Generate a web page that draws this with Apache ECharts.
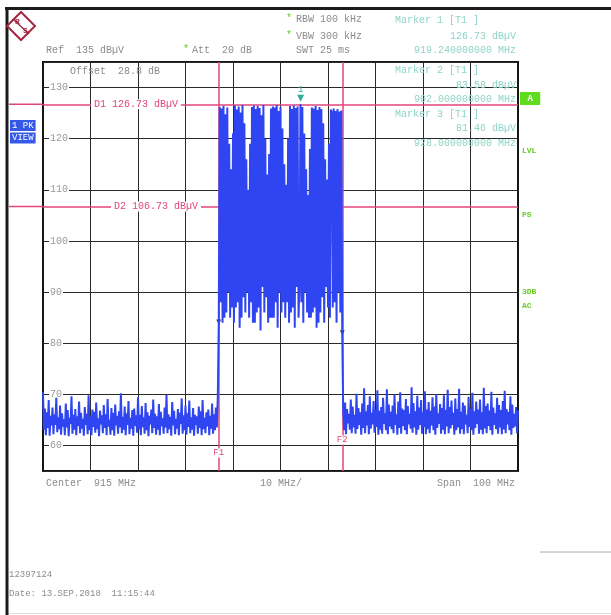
<!DOCTYPE html>
<html>
<head>
<meta charset="utf-8">
<script src="https://cdn.jsdelivr.net/npm/echarts@6/dist/echarts.min.js"></script>
<style>
html, body { margin: 0; padding: 0; background: #fff; }
#chart { width: 611px; height: 615px; }
</style>
</head>
<body>
<div id="chart"></div>
<script>
// sweep grid of the analyzer: 501 points, 865 .. 965 MHz
const sweepStart = 865;
const sweepStep = 0.2;

// trace, dBuV, left noise floor (865.0 .. 901.8 MHz)
const noiseLeft = [
  70.4, 63.1, 67.2, 62.0, 66.5, 63.4, 68.9, 61.9, 65.8, 63.9,
  67.4, 62.2, 66.1, 64.0, 69.3, 62.6, 65.5, 63.2, 67.8, 62.1,
  66.3, 63.7, 65.1, 62.0, 68.2, 63.5, 66.9, 61.8, 65.4, 64.2,
  69.6, 62.3, 66.0, 63.1, 67.1, 62.0, 65.7, 63.8, 68.6, 62.4,
  66.4, 63.3, 65.2, 61.9, 67.5, 64.0, 66.2, 62.2, 69.8, 63.0,
  65.6, 62.0, 67.0, 63.6, 66.6, 62.5, 68.4, 63.2, 65.3, 61.8,
  66.8, 64.1, 65.9, 62.4, 67.9, 63.4, 66.1, 62.0, 69.1, 63.7,
  65.0, 62.1, 67.3, 63.0, 66.4, 61.9, 68.0, 63.9, 65.8, 62.3,
  66.7, 63.5, 70.2, 62.4, 65.6, 63.1, 67.6, 62.0, 66.3, 64.0,
  68.7, 62.2, 65.4, 63.3, 66.9, 61.9, 67.2, 63.8, 65.9, 62.5,
  69.4, 63.2, 66.0, 62.0, 67.7, 63.6, 65.5, 62.3, 68.3, 63.0,
  66.5, 61.8, 65.8, 64.1, 67.0, 62.4, 69.0, 63.4, 66.2, 62.1,
  65.7, 63.1, 68.1, 62.0, 66.6, 63.8, 65.3, 62.3, 67.4, 63.5,
  69.9, 62.4, 66.1, 63.2, 65.6, 61.9, 68.5, 63.9, 66.8, 62.2,
  65.2, 63.3, 67.1, 62.0, 66.4, 64.2, 69.2, 62.3, 65.9, 63.0,
  67.8, 62.1, 66.3, 63.6, 68.8, 62.4, 65.5, 63.1, 67.3, 61.9,
  66.0, 64.0, 65.7, 62.3, 67.6, 63.4, 66.7, 62.0, 68.9, 63.2,
  65.4, 62.4, 66.5, 63.7, 67.0, 62.0, 65.8, 63.3, 68.2, 62.3,
  66.1, 63.0, 67.4, 63.5, 69.5
];

// burst between F1 and F2 (902.0 .. 928.0 MHz)
const burst = [
  83.58, 126.2, 88, 125.9, 84, 126.4, 85, 124.8, 86, 126.1,
  90, 119, 85, 114, 87, 121, 84, 126.5, 87, 125.7,
  88, 126.3, 83, 125.1, 85, 126.6, 89, 123, 86, 116,
  90, 110, 85, 119, 88, 126.2, 84, 126.5, 84, 125.8,
  86, 126.4, 87, 126.0, 82.5, 124.6, 91, 126.6, 86, 120,
  89, 113, 84, 117, 85, 125.9, 85, 126.3, 85, 126.1,
  88, 126.6, 83, 125.4, 90, 126.2, 86, 122, 88, 115,
  85, 111, 88, 120, 84, 126.4, 86, 125.8, 87, 126.5,
  83, 126.0, 91, 126.3, 85, 92, 126.73, 88, 126.2, 84,
  121, 90, 114, 86, 109, 85, 118, 85, 126.1, 86,
  125.9, 87, 126.4, 83, 125.6, 84, 126.2, 86, 125.8, 89,
  123, 84, 116, 91, 112, 87, 119, 85, 125.7, 125.2,
  87, 125.9, 88, 125.4, 84, 125.8, 90, 125.3, 86, 125.5,
  81.46
];

// right noise floor (928.2 .. 965.0 MHz)
const noiseRight = [
  66.9, 63.0, 68.4, 62.2, 67.1, 64.3, 66.2, 63.1, 69.0, 62.4,
  67.6, 63.5, 66.0, 62.3, 70.1, 63.2, 67.3, 64.0, 66.5, 62.1,
  68.2, 63.4, 71.2, 62.4, 66.7, 63.9, 67.9, 62.2, 69.6, 63.3,
  66.4, 64.1, 68.7, 62.5, 67.0, 63.6, 70.8, 62.1, 66.8, 63.1,
  67.5, 62.3, 69.3, 64.2, 66.3, 63.0, 71.0, 62.2, 68.0, 63.7,
  66.6, 63.2, 67.8, 62.4, 69.9, 64.0, 66.1, 62.1, 68.6, 63.4,
  70.4, 62.3, 67.2, 63.8, 66.9, 63.0, 69.1, 62.2, 67.7, 64.1,
  66.2, 63.3, 71.4, 62.5, 68.3, 63.5, 66.7, 62.1, 69.7, 63.1,
  67.4, 64.0, 68.9, 62.3, 66.5, 63.6, 70.6, 62.2, 67.0, 63.2,
  68.5, 62.4, 66.8, 63.9, 69.4, 63.0, 67.6, 62.1, 70.0, 63.4,
  66.3, 64.2, 68.1, 62.3, 67.3, 63.1, 69.8, 62.2, 66.9, 63.7,
  70.9, 62.4, 67.5, 63.3, 68.8, 64.0, 66.4, 62.1, 69.2, 63.0,
  67.1, 63.5, 71.1, 62.3, 66.6, 63.2, 68.4, 62.2, 67.8, 64.1,
  66.0, 62.4, 69.5, 63.6, 67.2, 63.0, 70.3, 62.1, 66.7, 63.4,
  68.6, 64.2, 67.0, 62.3, 69.0, 63.1, 66.5, 62.2, 71.3, 63.3,
  67.7, 62.4, 68.2, 63.8, 66.8, 63.0, 70.5, 62.1, 67.4, 64.0,
  66.3, 63.2, 69.3, 62.3, 67.9, 63.5, 66.9, 62.2, 68.7, 63.1,
  70.7, 62.4, 67.1, 64.1, 66.6, 63.0, 69.6, 62.1, 68.0, 63.4,
  66.2, 63.7, 67.5, 62.4, 66.8
];

const markers = [
  { name: '1', freq: 919.24, level: 126.73 },
  { name: '2', freq: 902, level: 83.58 },
  { name: '3', freq: 928, level: 81.46 }
];
const displayLines = [
  { name: 'D1', level: 126.73, labelX: 136 },
  { name: 'D2', level: 106.73, labelX: 156 }
];
const freqLines = [
  { name: 'F1', freq: 902, labelY: 453 },
  { name: 'F2', freq: 928, labelY: 440 }
];

const MONO = '"Liberation Mono", "DejaVu Sans Mono", monospace';
const GRAY = '#8c8c8c';
const TEAL = '#8fd4c6';
const GREEN = '#66cc22';
const PINK = '#e2457c';
const TRACE = '#2f45f2';

const trace = noiseLeft.concat(burst, noiseRight)
  .map((v, i) => [+(sweepStart + i * sweepStep).toFixed(1), v]);

function txt(x, y, text, opt) {
  opt = opt || {};
  return {
    type: 'text', z: 100,
    style: {
      x: x, y: y, text: text,
      fill: opt.color || GRAY,
      font: (opt.bold ? 'bold ' : '') + (opt.size || 10) + 'px ' + MONO,
      align: opt.align || 'left', textAlign: opt.align || 'left',
      verticalAlign: 'middle', textVerticalAlign: 'middle',
      backgroundColor: opt.bg, padding: opt.pad
    }
  };
}

const chart = echarts.init(document.getElementById('chart'));

const graphics = [
  // frame of the hardcopy
  { type: 'line', shape: { x1: 5, y1: 8.5, x2: 611, y2: 8.5 }, style: { stroke: '#1c1c1c', lineWidth: 3 } },
  { type: 'line', shape: { x1: 7, y1: 7, x2: 7, y2: 615 }, style: { stroke: '#1c1c1c', lineWidth: 3 } },
  { type: 'line', shape: { x1: 540, y1: 552, x2: 611, y2: 552 }, style: { stroke: '#aaa', lineWidth: 1 } },
  { type: 'line', shape: { x1: 9, y1: 613.5, x2: 611, y2: 613.5 }, style: { stroke: '#ddd', lineWidth: 1 } },
  // R&S logo
  { type: 'polygon', shape: { points: [[21, 12], [35, 26], [21, 40], [7, 26]] }, style: { fill: 'none', stroke: '#a3283f', lineWidth: 2 } },
  { type: 'line', shape: { x1: 13, y1: 19, x2: 29, y2: 34 }, style: { stroke: '#a3283f', lineWidth: 1.5 } },
  txt(15, 22, 'R', { color: '#a3283f', size: 8, bold: true }),
  txt(23, 31, 'S', { color: '#a3283f', size: 8, bold: true }),

  txt(286, 18, '*', { color: GREEN }),
  txt(296, 19, 'RBW 100 kHz'),
  txt(286, 35, '*', { color: GREEN }),
  txt(296, 36, 'VBW 300 kHz'),
  txt(46, 50, 'Ref  135 dBµV'),
  txt(183, 49, '*', { color: GREEN }),
  txt(192, 50, 'Att  20 dB'),
  txt(296, 50, 'SWT 25 ms'),

  txt(395, 20, 'Marker 1 [T1 ]', { color: TEAL }),
  txt(516, 36, '126.73 dBµV', { color: TEAL, align: 'right' }),
  txt(516, 50, '919.240000000 MHz', { color: TEAL, align: 'right' }),
  txt(395, 70, 'Marker 2 [T1 ]', { color: TEAL }),
  txt(516, 85, '83.58 dBµV', { color: TEAL, align: 'right' }),
  txt(516, 99, '902.000000000 MHz', { color: TEAL, align: 'right' }),
  txt(395, 114, 'Marker 3 [T1 ]', { color: TEAL }),
  txt(516, 128, '81.46 dBµV', { color: TEAL, align: 'right' }),
  txt(516, 143, '928.000000000 MHz', { color: TEAL, align: 'right' }),

  txt(70, 71, 'Offset  28.8 dB'),
  txt(46, 483, 'Center  915 MHz'),
  txt(260, 483, '10 MHz/'),
  txt(515, 483, 'Span  100 MHz', { align: 'right' }),
  txt(9, 575, '12397124', { size: 9 }),
  txt(9, 594, 'Date: 13.SEP.2018  11:15:44', { size: 9 }),

  // side annotations
  txt(520, 98.5, ' A ', { color: '#fff', bg: '#5fdc1c', size: 9, bold: true, pad: [2, 2] }),
  txt(522, 151, 'LVL', { color: GREEN, size: 8, bold: true }),
  txt(522, 215, 'PS', { color: GREEN, size: 8, bold: true }),
  txt(522, 292, '3DB', { color: GREEN, size: 8, bold: true }),
  txt(522, 306, 'AC', { color: GREEN, size: 8, bold: true }),
  txt(10, 125.5, '1 PK', { color: '#fff', bg: '#3558e6', size: 9, pad: [1, 2] }),
  txt(10, 138, 'VIEW', { color: '#fff', bg: '#3558e6', size: 9, pad: [1, 2] })
];

chart.setOption({
  animation: false,
  backgroundColor: '#fff',
  grid: { left: 43, right: 93, top: 62, bottom: 144, show: true, borderColor: '#151515', borderWidth: 2, z: 3 },
  xAxis: [
    { type: 'value', min: 865, max: 965, show: false },
    {
      // 10 MHz/div graticule
      type: 'value', min: 0, max: 100, interval: 10, position: 'bottom',
      axisLine: { show: false }, axisTick: { show: false }, axisLabel: { show: false },
      splitLine: { show: true, lineStyle: { color: '#2a2a2a', width: 1 } }
    }
  ],
  yAxis: {
    type: 'value', min: 55, max: 135, splitNumber: 8,
    axisLine: { show: false }, axisTick: { show: false },
    axisLabel: {
      inside: true, margin: 6, color: '#9a9a9a', fontFamily: MONO, fontSize: 10,
      backgroundColor: '#fff', padding: [0, 1],
      showMinLabel: false, showMaxLabel: false
    },
    splitLine: { show: true, lineStyle: { color: '#2a2a2a', width: 1 } },
    z: 4
  },
  series: [{
    type: 'line',
    xAxisIndex: 0,
    data: trace,
    showSymbol: false,
    symbol: 'none',
    lineStyle: { color: TRACE, width: 2 },
    z: 5,
    markLine: {
      silent: true, symbol: 'none', label: { show: false },
      lineStyle: { color: PINK, width: 1.5, type: 'solid' },
      data: displayLines.map(d => ({ yAxis: d.level }))
        .concat(freqLines.map(f => ({ xAxis: f.freq })))
    },
    markPoint: {
      silent: true,
      data: markers.map((m, i) => ({
        coord: [m.freq, m.level],
        symbol: 'triangle', symbolRotate: 180,
        symbolSize: i === 0 ? 7 : 5,
        symbolOffset: [0, i === 0 ? -6 : -3],
        itemStyle: { color: i === 0 ? '#2fae94' : '#4a3a30' },
        label: i === 0
          ? { show: true, formatter: m.name, position: 'top', distance: 1, color: '#2fae94', fontFamily: MONO, fontSize: 9 }
          : { show: false }
      }))
    }
  }],
  graphic: graphics
});

// line stubs left of the graticule and labels, placed through the axes
const gl = chart.convertToPixel({ xAxisIndex: 0 }, 865);
const extra = [];
displayLines.forEach(d => {
  const y = chart.convertToPixel({ yAxisIndex: 0 }, d.level);
  extra.push({ type: 'line', z: 90, shape: { x1: 9, y1: y, x2: gl, y2: y }, style: { stroke: PINK, lineWidth: 1.5 } });
  extra.push(txt(d.labelX, y, d.name + ' ' + d.level.toFixed(2) + ' dBµV',
    { color: PINK, align: 'center', bg: '#fff', pad: [0, 3] }));
});
freqLines.forEach(f => {
  const x = chart.convertToPixel({ xAxisIndex: 0 }, f.freq);
  extra.push(txt(x, f.labelY, f.name, { color: PINK, align: 'center', bg: '#fff', size: 9 }));
});
chart.setOption({ graphic: graphics.concat(extra) });
</script>
</body>
</html>
